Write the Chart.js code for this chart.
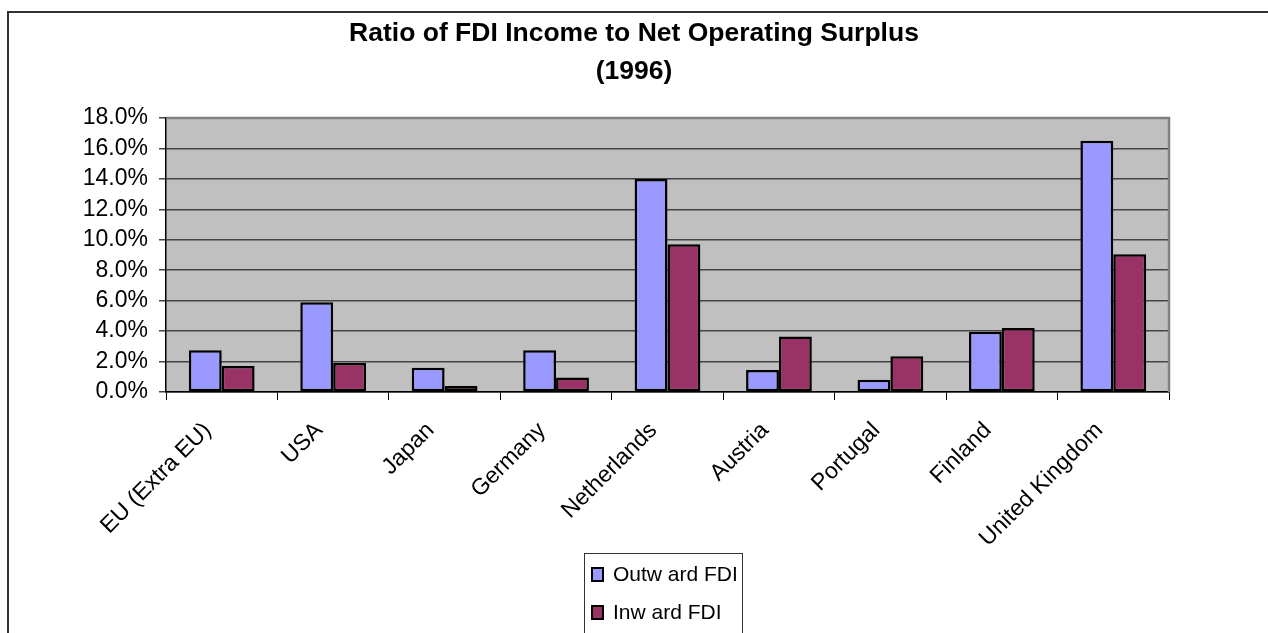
<!DOCTYPE html>
<html><head><meta charset="utf-8">
<script src="https://cdn.jsdelivr.net/npm/chart.js@4/dist/chart.umd.min.js"></script>
<style>html,body{margin:0;padding:0;background:#fff;overflow:hidden}#wrap{width:1268px;height:633px;position:relative}canvas{display:block}</style>
</head><body><div id="wrap"><canvas id="c" width="1268" height="633"></canvas></div>
<script>
const categories = ['EU (Extra EU)', 'USA', 'Japan', 'Germany', 'Netherlands', 'Austria', 'Portugal', 'Finland', 'United Kingdom'];
const outwardFDI = [2.75, 5.9, 1.6, 2.75, 14.0, 1.45, 0.8, 3.95, 16.5];
const inwardFDI = [1.7, 1.9, 0.4, 0.95, 9.7, 3.65, 2.35, 4.2, 9.05];
const seriesNames = ['Outw ard FDI', 'Inw ard FDI'];
const titleLines = ['Ratio of FDI Income to Net Operating Surplus', '(1996)'];
const yMin = 0, yMax = 18, yStep = 2;
const FONT = 'Arial, "Liberation Sans", sans-serif';

const decor = {
  id: 'decor',
  beforeDraw(chart) {
    const {ctx, chartArea: a} = chart;
    ctx.save();
    ctx.fillStyle = '#ffffff';
    ctx.fillRect(0, 0, chart.width, chart.height);
    ctx.fillStyle = '#C0C0C0';
    ctx.fillRect(a.left, a.top, a.right - a.left, a.bottom - a.top);
    ctx.strokeStyle = '#333333';
    ctx.lineWidth = 2;
    ctx.beginPath();
    ctx.moveTo(8, chart.height + 5);
    ctx.lineTo(8, 12);
    ctx.lineTo(chart.width + 5, 12);
    ctx.stroke();
    ctx.restore();
  },
  afterDatasetsDraw(chart) {
    const {ctx, chartArea: a} = chart;
    ctx.save();
    ctx.strokeStyle = '#808080';
    ctx.lineWidth = 2.5;
    ctx.beginPath();
    ctx.moveTo(a.left, a.top);
    ctx.lineTo(a.right, a.top);
    ctx.lineTo(a.right, a.bottom);
    ctx.stroke();
    ctx.restore();
  },
  afterDraw(chart) {
    const ctx = chart.ctx;
    ctx.save();
    ctx.strokeStyle = '#333333';
    ctx.lineWidth = 1;
    ctx.strokeRect(584.5, 553.5, 158, 100);
    ctx.font = '21px ' + FONT;
    ctx.textBaseline = 'middle';
    const ys = [574, 612];
    chart.data.datasets.forEach((ds, i) => {
      ctx.fillStyle = ds.backgroundColor;
      ctx.fillRect(592, ys[i] - 6, 11, 13);
      ctx.strokeStyle = '#000';
      ctx.lineWidth = 2;
      ctx.strokeRect(592, ys[i] - 6, 11, 13);
      ctx.fillStyle = '#000';
      ctx.fillText(ds.label, 613, ys[i] + 1);
    });
    ctx.restore();
  }
};

new Chart(document.getElementById('c'), {
  type: 'bar',
  data: {
    labels: categories,
    datasets: [
      {label: seriesNames[0], data: outwardFDI, backgroundColor: '#9999FF', borderColor: '#000000', borderWidth: 2.5, borderSkipped: false},
      {label: seriesNames[1], data: inwardFDI, backgroundColor: '#993366', borderColor: '#000000', borderWidth: 2.5, borderSkipped: false}
    ]
  },
  options: {
    responsive: false,
    animation: false,
    devicePixelRatio: 1,
    layout: {padding: {top: 0, left: 0, right: 0, bottom: 0}},
    datasets: {bar: {categoryPercentage: 0.59, barPercentage: 1.0}},
    plugins: {
      legend: {display: false},
      tooltip: {enabled: false},
      title: {
        display: true,
        text: titleLines,
        color: '#000',
        font: {family: FONT, size: 26.5, weight: 'bold', lineHeight: 38 / 26.5},
        padding: {top: 15, bottom: 27}
      }
    },
    scales: {
      x: {
        grid: {display: true, drawOnChartArea: false, drawTicks: true, tickLength: 8, color: '#000', lineWidth: 1, offset: true},
        border: {display: true, color: '#000', width: 1.5},
        ticks: {color: '#000', font: {family: FONT, size: 23}, minRotation: 45, maxRotation: 45, autoSkip: false, padding: 17, labelOffset: -14},
        afterFit(s) { s.height = 241; }
      },
      y: {
        min: yMin, max: yMax,
        grid: {color: '#444444', lineWidth: 1.5, tickLength: 7, drawTicks: true},
        border: {display: true, color: '#000', width: 1.5},
        ticks: {stepSize: yStep, autoSkip: false, color: '#000', padding: 11, font: {family: FONT, size: 23}, callback: v => v.toFixed(1) + '%'},
        afterFit(s) { s.width = 166; }
      },
      yRight: {
        position: 'right',
        display: true,
        grid: {display: false},
        border: {display: false},
        ticks: {display: false},
        afterFit(s) { s.width = 99; }
      }
    }
  },
  plugins: [decor]
});
</script>
</body></html>
